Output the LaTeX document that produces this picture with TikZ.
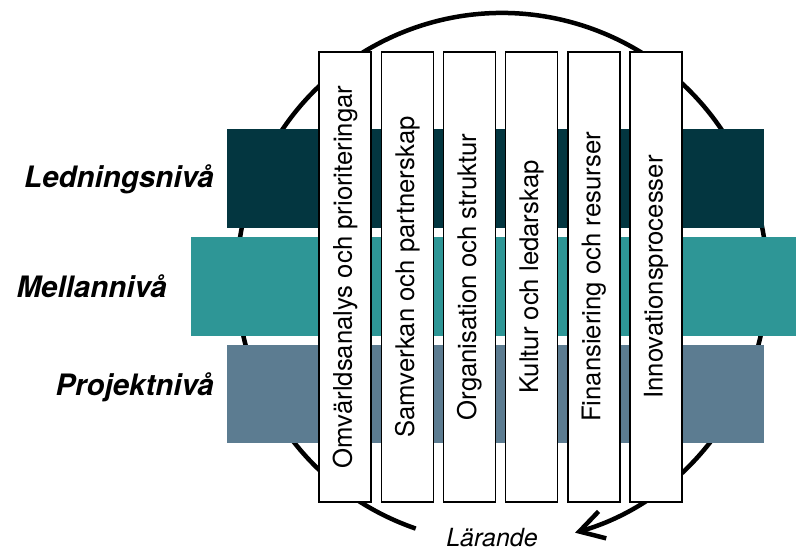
\documentclass[tikz,border=0pt]{standalone}
\usepackage{fontspec}
\setsansfont{TeX Gyre Heros}
\usetikzlibrary{arrows.meta}

\definecolor{ledning}{RGB}{3,54,64}
\definecolor{mellan}{RGB}{46,150,150}
\definecolor{projekt}{RGB}{92,124,145}

\begin{document}
\begin{tikzpicture}[x=1pt,y=-1pt,
    omrade/.style={draw=black,line width=1.4pt,fill=white,rotate=90,
      minimum width=450pt,minimum height=52pt,inner sep=0pt,
      font=\fontsize{25.7}{26}\selectfont},
    niva/.style={anchor=base east,inner sep=0pt,
      font=\bfseries\itshape\fontsize{29.5}{30}\selectfont}]

  \sffamily
  \useasboundingbox (0,0) rectangle (796,551);

  % cirkeln
  \coordinate (mitt) at (502,278);
  \draw[line width=4.5pt,-{Straight Barb[length=24pt,width=28pt]}]
    (mitt) ++(109:265) arc (109:434:265);

  % nivaerna
  \fill[ledning] (227,129) rectangle (764,228);
  \fill[mellan]  (191,237) rectangle (796,336);
  \fill[projekt] (227,345) rectangle (764,443);

  \foreach \namn [count=\i] in {Omvärldsanalys och prioriteringar,
      Samverkan och partnerskap, Organisation och struktur,
      Kultur och ledarskap, Finansiering och resurser, Innovationsprocesser}
    \node[omrade] (omr\i) at ({345+62.2*(\i-1)},277) {\namn};

  \node[niva] (ledningsniva) at (214,187) {Ledningsnivå};
  \node[niva] (mellanniva)   at (167,297) {Mellannivå};
  \node[niva] (projektniva)  at (214,395) {Projektnivå};

  \node[anchor=base,inner sep=0pt,font=\itshape\fontsize{25}{25}\selectfont]
    (larande) at (492,546) {Lärande};
\end{tikzpicture}
\end{document}
